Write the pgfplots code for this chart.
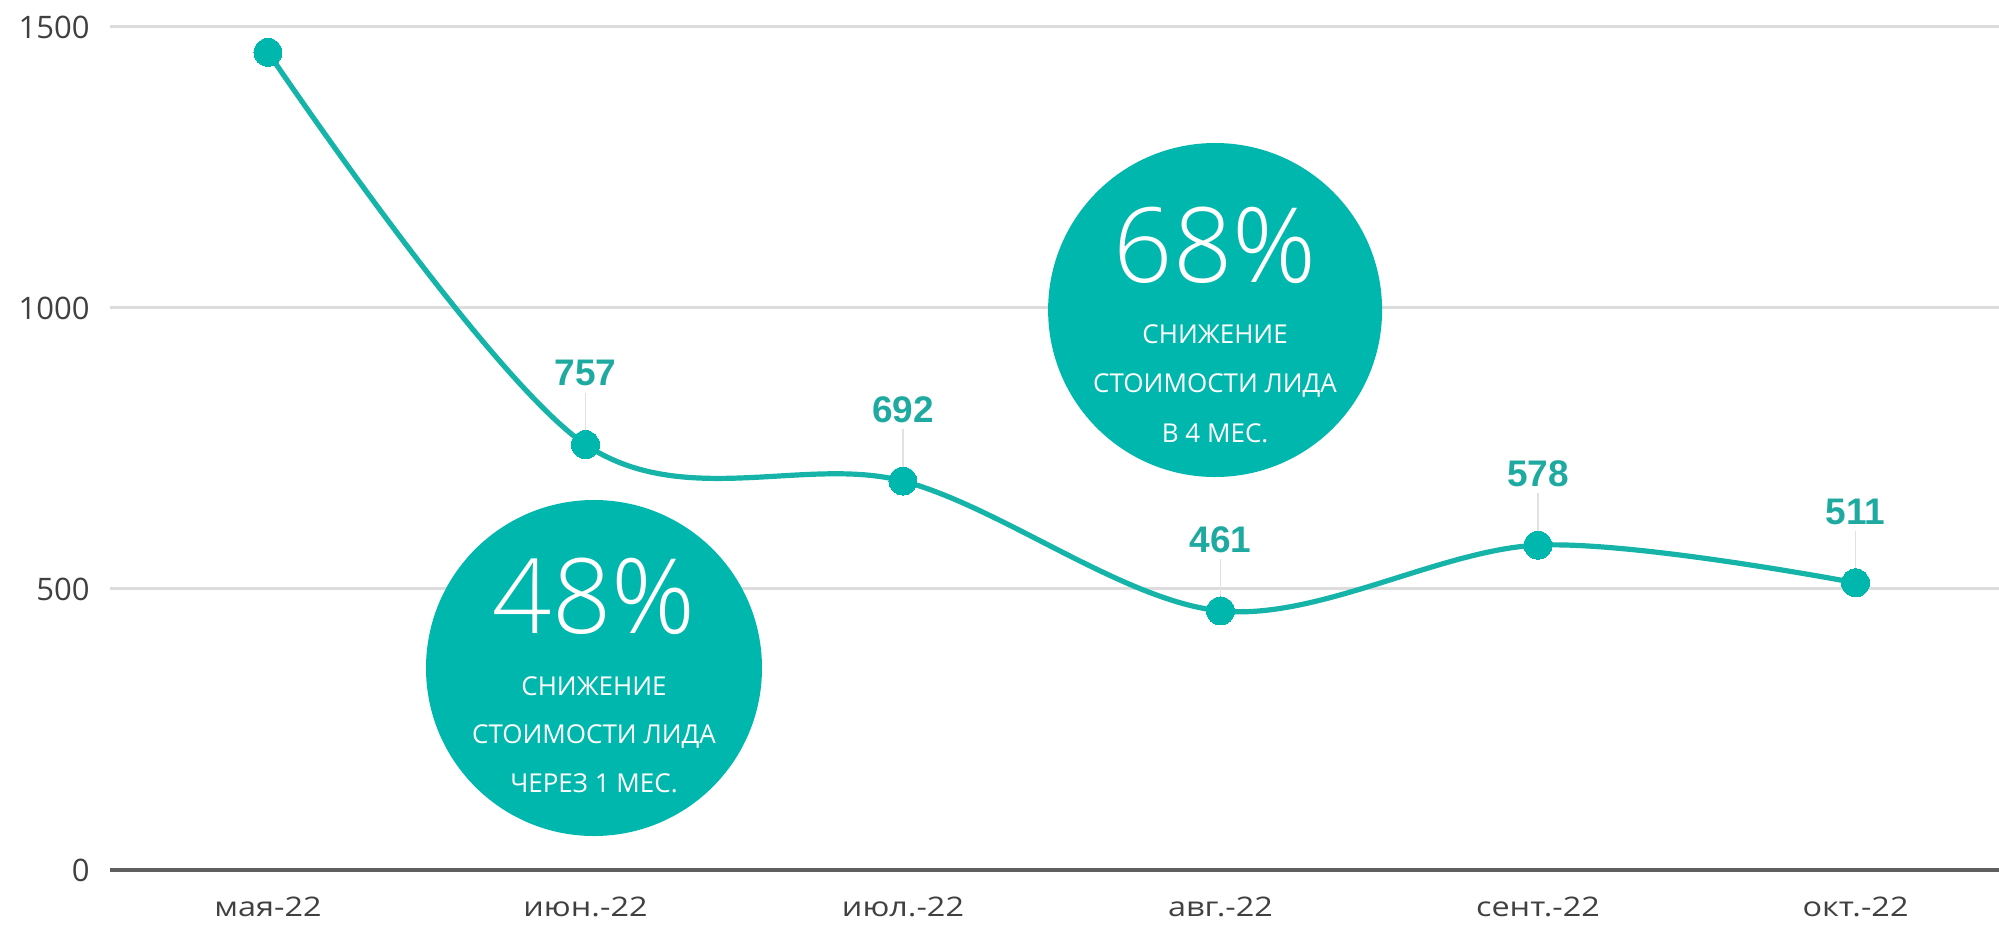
\documentclass[border=0pt]{standalone}
\usepackage{pgfplots}
\pgfplotsset{compat=1.18}
\usepackage{fontspec}
\setmainfont{Open Sans}
\newfontfamily\oslight{Open Sans Light}
\newfontfamily\labfont{Liberation Sans}
\newfontfamily\xfont[FakeStretch=1.2]{Open Sans}
\definecolor{teal1}{RGB}{0,183,173}
\definecolor{tealline}{RGB}{22,180,168}
\definecolor{teallab}{RGB}{30,170,160}
\definecolor{gridc}{RGB}{220,220,220}
\definecolor{ticktxt}{RGB}{64,64,64}
\definecolor{axisc}{RGB}{95,95,95}
\definecolor{leader}{RGB}{225,225,225}
\begin{document}
\begin{tikzpicture}
\begin{axis}[
 scale only axis, width=944.5pt, height=421.5pt,
 xmin=-0.4976, xmax=5.452, ymin=0, ymax=1500,
 xtick={0,1,2,3,4,5},
 xticklabels={мая-22, июн.-22, июл.-22, авг.-22, сент.-22, окт.-22},
 ytick={0,500,1000,1500},
 ymajorgrids, grid style={gridc, line width=1.5pt},
 axis line style={draw=none},
 major tick length=0pt,
 /pgf/number format/assume math mode=true,
 /pgf/number format/1000 sep={},
 yticklabel style={font=\fontsize{15.5}{18}\selectfont, text=ticktxt, inner sep=0pt, xshift=-10pt, anchor=east},
 xticklabel style={font=\xfont\fontsize{13.5}{16}\selectfont, text=ticktxt, inner sep=0pt, anchor=north, yshift=-13.5pt},
 clip=false,
]
\draw[axisc, line width=2pt] (rel axis cs:0,0) -- (rel axis cs:1,0);
% leaders and value labels
\addplot[draw=none, mark=none, forget plot,
  nodes near coords,
  every node near coord/.append style={font=\labfont\bfseries\fontsize{18.5}{20}\selectfont, text=teallab, anchor=south, inner sep=0pt, yshift=29pt},
  error bars/.cd, y dir=plus, y explicit, error mark=none,
  error bar style={line width=0.7pt, color=leader}]
 table[x=x, y=y, y error=e] {
x y e
1 757 92.5
2 692 92.5
3 461 92.5
4 578 92.5
5 511 92.5
};
\addplot[tealline, line width=2.6pt, smooth, tension=0.55, mark=*, mark size=7pt,
  mark options={fill=teal1, draw=teal1, line width=0pt}]
 table[x=x, y=y] {
x y
0 1455
1 757
2 692
3 461
4 578
5 511
};
% annotation circles
\node[circle, fill=teal1, minimum size=167pt, inner sep=0pt] (c1) at (axis cs:2.983,996.4) {};
\node[text=white, anchor=base, inner sep=0pt, font=\oslight\fontsize{52}{52}\selectfont] at ([yshift=14pt]c1.center) {68\%};
\node[text=white, anchor=base, inner sep=0pt, font=\fontsize{13}{15}\selectfont] at ([yshift=-16.5pt]c1.center) {СНИЖЕНИЕ};
\node[text=white, anchor=base, inner sep=0pt, font=\fontsize{13}{15}\selectfont] at ([yshift=-41pt]c1.center) {СТОИМОСТИ ЛИДА};
\node[text=white, anchor=base, inner sep=0pt, font=\fontsize{13}{15}\selectfont] at ([yshift=-66pt]c1.center) {В 4 МЕС.};
\node[circle, fill=teal1, minimum size=168pt, inner sep=0pt] (c2) at (axis cs:1.0268,359.4) {};
\node[text=white, anchor=base, inner sep=0pt, font=\oslight\fontsize{52}{52}\selectfont] at ([yshift=17.5pt]c2.center) {48\%};
\node[text=white, anchor=base, inner sep=0pt, font=\fontsize{13}{15}\selectfont] at ([yshift=-13.5pt]c2.center) {СНИЖЕНИЕ};
\node[text=white, anchor=base, inner sep=0pt, font=\fontsize{13}{15}\selectfont] at ([yshift=-37.5pt]c2.center) {СТОИМОСТИ ЛИДА};
\node[text=white, anchor=base, inner sep=0pt, font=\fontsize{13}{15}\selectfont] at ([yshift=-62pt]c2.center) {ЧЕРЕЗ 1 МЕС.};
\end{axis}
\pgfresetboundingbox
\path (-55pt,-27.5pt) rectangle (944.5pt,435pt);
\end{tikzpicture}
\end{document}
